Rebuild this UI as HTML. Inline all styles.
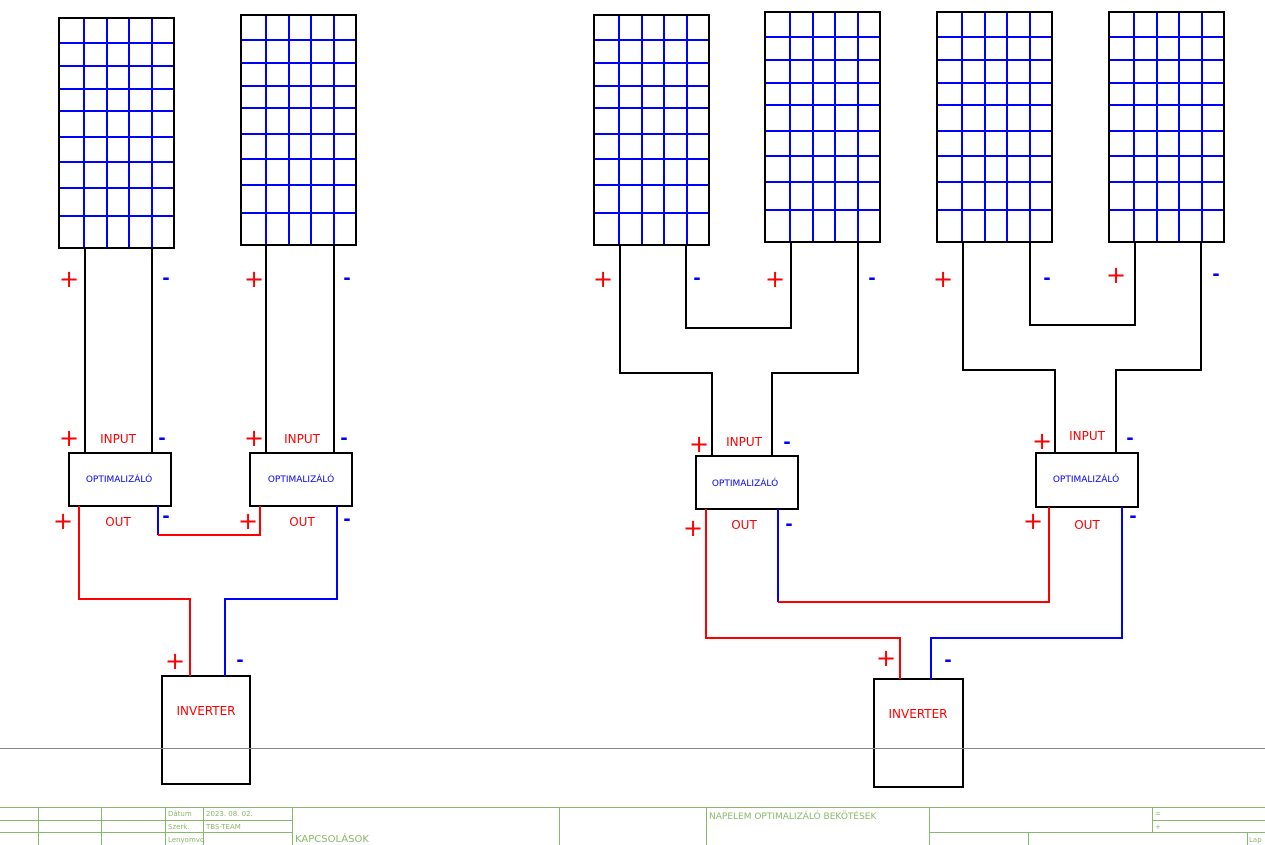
<!DOCTYPE html>
<html><head><meta charset="utf-8"><style>
html,body{margin:0;padding:0;background:#fff;}
svg{display:block;}
text{font-family:"DejaVu Sans","Liberation Sans",sans-serif;}
</style></head><body>
<svg width="1265" height="845" viewBox="0 0 1265 845" xmlns="http://www.w3.org/2000/svg">
<defs>
<g id="pan">
<g stroke="#0000ff" stroke-width="2">
<line x1="25" y1="0" x2="25" y2="230"/><line x1="48" y1="0" x2="48" y2="230"/>
<line x1="70" y1="0" x2="70" y2="230"/><line x1="93" y1="0" x2="93" y2="230"/>
<line x1="0" y1="25" x2="115" y2="25"/><line x1="0" y1="48" x2="115" y2="48"/>
<line x1="0" y1="71" x2="115" y2="71"/><line x1="0" y1="93" x2="115" y2="93"/>
<line x1="0" y1="119" x2="115" y2="119"/><line x1="0" y1="144" x2="115" y2="144"/>
<line x1="0" y1="170" x2="115" y2="170"/><line x1="0" y1="198" x2="115" y2="198"/>
</g>
<rect x="0" y="0" width="115" height="230" fill="none" stroke="#000" stroke-width="2"/>
</g>
</defs>
<use href="#pan" x="59" y="18"/>
<use href="#pan" x="241" y="15"/>
<use href="#pan" x="594" y="15"/>
<use href="#pan" x="765" y="12"/>
<use href="#pan" x="937" y="12"/>
<use href="#pan" x="1109" y="12"/>

<g fill="none" stroke="#000" stroke-width="2">
<!-- left panel wires -->
<line x1="85" y1="248" x2="85" y2="453"/><line x1="152" y1="248" x2="152" y2="453"/>
<line x1="266" y1="245" x2="266" y2="453"/><line x1="334" y1="245" x2="334" y2="453"/>
<!-- right panel wires -->
<polyline points="686,245 686,328 791,328 791,242"/>
<polyline points="620,245 620,373 712,373 712,456"/>
<polyline points="858,242 858,373 772,373 772,456"/>
<polyline points="1030,242 1030,325 1135,325 1135,242"/>
<polyline points="963,242 963,370 1055,370 1055,453"/>
<polyline points="1201,242 1201,370 1116,370 1116,453"/>
<!-- optimizers -->
<rect x="69" y="453" width="102" height="53"/>
<rect x="250" y="453" width="102" height="53"/>
<rect x="696" y="456" width="102" height="53"/>
<rect x="1036" y="453" width="102" height="54"/>
<!-- inverters -->
<rect x="162" y="676" width="88" height="108"/>
<rect x="874" y="679" width="89" height="108"/>
</g>

<g fill="none" stroke-width="2">
<polyline stroke="#ff0000" points="79,506 79,599 190,599 190,676"/>
<polyline stroke="#0000ff" points="158,506 158,535"/>
<polyline stroke="#ff0000" points="158,535 260,535 260,506"/>
<polyline stroke="#0000ff" points="337,506 337,599 225,599 225,676"/>
<polyline stroke="#ff0000" points="706,509 706,638 900,638 900,679"/>
<polyline stroke="#0000ff" points="778,509 778,602"/>
<polyline stroke="#ff0000" points="778,602 1049,602 1049,507"/>
<polyline stroke="#0000ff" points="1122,507 1122,638 931,638 931,679"/>
</g>

<g font-size="24" fill="#ff0000" text-anchor="middle">
<text x="69" y="287">+</text><text x="254" y="287">+</text>
<text x="603" y="287">+</text><text x="775" y="287">+</text>
<text x="943" y="287">+</text><text x="1116" y="283">+</text>
<text x="69" y="446">+</text><text x="254" y="446">+</text>
<text x="699" y="452">+</text><text x="1042" y="449">+</text>
<text x="63" y="529">+</text><text x="248" y="529">+</text>
<text x="693" y="536">+</text><text x="1033" y="529">+</text>
<text x="175" y="669">+</text><text x="886" y="666">+</text>
</g>
<g font-size="18" font-weight="bold" fill="#0000ff" text-anchor="middle">
<text x="166" y="284">-</text><text x="347" y="284">-</text>
<text x="697" y="284">-</text><text x="872" y="284">-</text>
<text x="1047" y="284">-</text><text x="1216" y="280">-</text>
<text x="162" y="444">-</text><text x="344" y="444">-</text>
<text x="787" y="448">-</text><text x="1130" y="444">-</text>
<text x="166" y="522">-</text><text x="347" y="525">-</text>
<text x="789" y="530">-</text><text x="1133" y="522">-</text>
<text x="240" y="666">-</text><text x="948" y="666">-</text>
</g>
<g font-size="12" fill="#ff0000" text-anchor="middle">
<text x="118" y="443">INPUT</text><text x="302" y="443">INPUT</text>
<text x="744" y="446">INPUT</text><text x="1087" y="440">INPUT</text>
<text x="118" y="526">OUT</text><text x="302" y="526">OUT</text>
<text x="744" y="529">OUT</text><text x="1087" y="529">OUT</text>
<text x="206" y="715">INVERTER</text><text x="918" y="718">INVERTER</text>
</g>
<g font-size="9" fill="#0000ff" text-anchor="middle">
<text x="119" y="482">OPTIMALIZÁLÓ</text><text x="301" y="482">OPTIMALIZÁLÓ</text>
<text x="745" y="486">OPTIMALIZÁLÓ</text><text x="1086" y="482">OPTIMALIZÁLÓ</text>
</g>

<line x1="0" y1="748.5" x2="1265" y2="748.5" stroke="#888" stroke-width="1"/>

<g stroke="#8ab86a" stroke-width="1" fill="none">
<line x1="0" y1="807.5" x2="1265" y2="807.5"/>
<line x1="0" y1="820.5" x2="292" y2="820.5"/>
<line x1="0" y1="832.5" x2="292" y2="832.5"/>
<line x1="1152" y1="820.5" x2="1265" y2="820.5"/>
<line x1="929" y1="832.5" x2="1265" y2="832.5"/>
<line x1="38.5" y1="807" x2="38.5" y2="845"/>
<line x1="101.5" y1="807" x2="101.5" y2="845"/>
<line x1="165.5" y1="807" x2="165.5" y2="845"/>
<line x1="203.5" y1="807" x2="203.5" y2="845"/>
<line x1="292.5" y1="807" x2="292.5" y2="845"/>
<line x1="559.5" y1="807" x2="559.5" y2="845"/>
<line x1="706.5" y1="807" x2="706.5" y2="845"/>
<line x1="929.5" y1="807" x2="929.5" y2="845"/>
<line x1="1152.5" y1="807" x2="1152.5" y2="832"/>
<line x1="1028.5" y1="832" x2="1028.5" y2="845"/>
<line x1="1247.5" y1="832" x2="1247.5" y2="845"/>
</g>
<g font-size="7" fill="#8ab86a">
<text x="168" y="816">Dátum</text><text x="206" y="816">2023. 08. 02.</text>
<text x="168" y="829">Szerk.</text><text x="206" y="829">TBS-TEAM</text>
<text x="168" y="842">Lenyomvo</text>
<text x="1155" y="816">=</text><text x="1155" y="829">+</text>
<text x="1249" y="842">Lap</text>
</g>
<text x="295" y="842" font-size="10" fill="#8ab86a">KAPCSOLÁSOK</text>
<text x="709" y="819" font-size="9" fill="#8ab86a">NAPELEM OPTIMALIZÁLÓ BEKÖTÉSEK</text>
</svg>
</body></html>
